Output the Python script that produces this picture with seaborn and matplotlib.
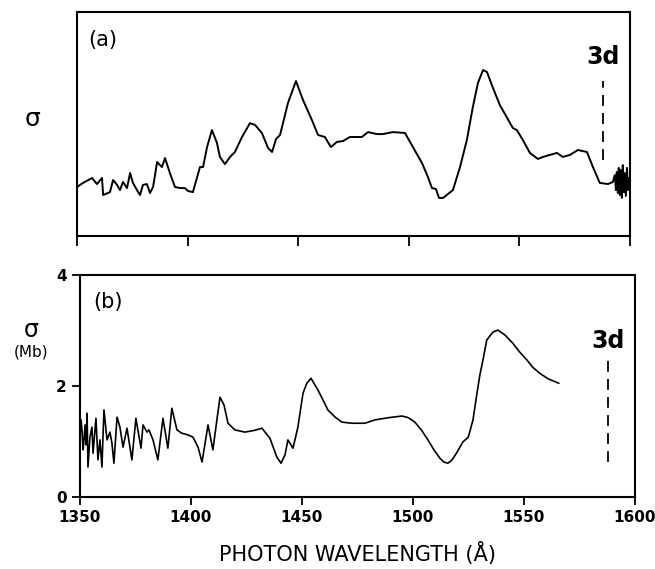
import numpy as np
import pandas as pd
import matplotlib
matplotlib.use("Agg")
import matplotlib.pyplot as plt
import seaborn as sns

# (a) measured spectrum, arbitrary units
wl_a = [1350.0, 1352.7, 1356.8, 1359.0, 1361.3, 1361.8, 1364.9, 1366.3, 1368.1, 1369.4,
        1370.8, 1372.6, 1374.0, 1375.3, 1377.1, 1378.5, 1379.8, 1381.6, 1383.0, 1384.4,
        1386.2, 1388.4, 1389.8, 1392.0, 1394.3, 1396.6, 1398.8, 1400.2, 1402.4, 1405.6,
        1407.0, 1408.8, 1411.0, 1413.3, 1414.6, 1416.9, 1419.2, 1421.4, 1424.6, 1428.2,
        1430.5, 1433.6, 1436.4, 1438.2, 1440.0, 1441.8, 1445.4, 1449.0, 1452.2, 1456.2,
        1459.0, 1462.1, 1464.8, 1467.5, 1470.3, 1473.4, 1478.8, 1481.6, 1485.6, 1488.3,
        1492.9, 1498.3, 1501.9, 1506.0, 1508.7, 1510.5, 1512.3, 1513.7, 1515.5, 1520.0,
        1523.2, 1526.3, 1529.0, 1531.3, 1533.6, 1535.4, 1538.1, 1541.2, 1547.1, 1548.9,
        1551.6, 1554.8, 1558.4, 1560.7, 1563.8, 1567.0, 1569.7, 1572.9, 1576.5, 1580.6,
        1583.3, 1586.4, 1590.1, 1592.3, 1593.2, 1593.7, 1594.1, 1594.6, 1595.0, 1595.5,
        1595.9, 1596.4, 1596.8, 1597.3, 1597.7, 1598.2, 1598.7, 1599.1, 1599.6]
sig_a = [2.19, 2.37, 2.59, 2.32, 2.59, 1.83, 1.96, 2.50, 2.28, 2.05,
         2.41, 2.14, 2.81, 2.37, 2.05, 1.83, 2.28, 2.32, 1.92, 2.19,
         3.30, 3.08, 3.48, 2.81, 2.19, 2.14, 2.14, 2.01, 1.96, 3.08,
         3.08, 3.97, 4.73, 4.15, 3.53, 3.21, 3.53, 3.75, 4.42, 5.04,
         4.96, 4.60, 3.93, 3.75, 4.33, 4.51, 5.94, 6.92, 6.07, 5.18,
         4.51, 4.42, 3.97, 4.20, 4.24, 4.42, 4.42, 4.64, 4.55, 4.55,
         4.64, 4.60, 3.97, 3.26, 2.63, 2.14, 2.10, 1.70, 1.70, 2.05,
         3.08, 4.29, 5.76, 6.83, 7.41, 7.32, 6.61, 5.85, 4.82, 4.73,
         4.29, 3.71, 3.44, 3.53, 3.62, 3.71, 3.53, 3.62, 3.84, 3.75,
         3.08, 2.37, 2.32, 2.41, 2.72, 2.05, 2.86, 1.92, 3.04, 1.83,
         2.95, 1.70, 3.17, 1.96, 2.81, 1.79, 3.04, 2.05, 2.59]

# (b) calculated cross section, Mb
wl_b = [1350.0, 1350.5, 1350.9, 1351.4, 1351.8, 1352.3, 1352.7, 1353.2, 1353.6, 1354.5,
        1355.4, 1355.9, 1357.2, 1358.1, 1359.0, 1359.9, 1360.8, 1362.2, 1363.5, 1364.4,
        1365.3, 1366.7, 1368.0, 1369.4, 1371.2, 1373.4, 1375.2, 1377.5, 1378.4, 1380.2,
        1381.1, 1382.9, 1385.1, 1387.4, 1389.6, 1391.4, 1393.7, 1395.9, 1398.7, 1400.9,
        1403.2, 1405.0, 1407.7, 1409.9, 1411.7, 1413.1, 1414.9, 1416.7, 1419.8, 1424.3,
        1428.5, 1432.0, 1435.6, 1438.7, 1440.6, 1442.4, 1443.7, 1446.0, 1448.2, 1450.5,
        1452.2, 1454.1, 1457.2, 1459.5, 1461.7, 1465.0, 1468.0, 1472.5, 1478.4, 1482.9,
        1489.0, 1495.1, 1498.0, 1500.9, 1504.0, 1506.8, 1509.5, 1512.2, 1514.0, 1515.8,
        1517.5, 1519.8, 1522.5, 1525.0, 1527.1, 1528.9, 1530.2, 1531.6, 1533.3, 1536.0,
        1538.3, 1541.5, 1545.1, 1548.0, 1551.4, 1554.0, 1557.2, 1561.0, 1565.8]
sig_b = [1.08, 1.39, 1.21, 0.85, 1.03, 1.30, 0.94, 1.51, 0.54, 1.08,
         1.26, 0.79, 1.42, 0.67, 1.03, 0.54, 1.57, 1.03, 1.17, 0.97,
         0.61, 1.44, 1.26, 0.90, 1.24, 0.67, 1.42, 0.88, 1.30, 1.17,
         1.21, 1.03, 0.67, 1.42, 0.88, 1.60, 1.21, 1.15, 1.12, 1.08,
         0.90, 0.63, 1.30, 0.85, 1.39, 1.80, 1.66, 1.33, 1.21, 1.17,
         1.20, 1.24, 1.06, 0.72, 0.61, 0.76, 1.03, 0.88, 1.26, 1.87,
         2.05, 2.14, 1.93, 1.75, 1.57, 1.44, 1.35, 1.33, 1.33, 1.39,
         1.43, 1.46, 1.43, 1.35, 1.20, 1.03, 0.85, 0.70, 0.63, 0.61,
         0.66, 0.80, 0.99, 1.08, 1.39, 1.87, 2.20, 2.47, 2.83, 2.97,
         3.01, 2.92, 2.77, 2.62, 2.47, 2.34, 2.23, 2.13, 2.05]

x_ticks = [1350, 1400, 1450, 1500, 1550, 1600]
y_ticks_b = [0, 2, 4]
edge_3d = 1588

sns.set_theme(style="ticks")
plt.rcParams.update({
    "font.family": ["DejaVu Sans"],
    "axes.linewidth": 1.5,
    "axes.edgecolor": "black",
    "axes.labelcolor": "black",
    "text.color": "black",
    "xtick.color": "black",
    "ytick.color": "black",
    "xtick.major.width": 1.3,
    "ytick.major.width": 1.3,
})

df_a = pd.DataFrame({"wl": wl_a, "sig": sig_a})
df_b = pd.DataFrame({"wl": wl_b, "sig": sig_b})

fig = plt.figure(figsize=(6.55, 5.69), dpi=100)
ax_a = fig.add_axes([0.1176, 0.5852, 0.844, 0.3937])
ax_b = fig.add_axes([0.1221, 0.1265, 0.847, 0.390])

# ── panel (a) ────────────────────────────────────────────────────────────────
sns.lineplot(data=df_a, x="wl", y="sig", ax=ax_a, color="black", lw=1.4,
             estimator=None, sort=False)
ax_a.set_xlim(1350, 1600)
ax_a.set_ylim(0, 10)
ax_a.set_xticks(x_ticks)
ax_a.set_xticklabels([])
ax_a.set_yticks([])
ax_a.tick_params(axis="x", direction="out", length=7)
ax_a.set_xlabel("")
ax_a.set_ylabel("")
ax_a.vlines(edge_3d, 3.4, 6.9, colors="black", lw=1.3, linestyles=(0, (6, 4)))
ax_a.text(edge_3d, 7.45, "3d", ha="center", va="bottom", fontsize=17, fontweight="bold")
ax_a.text(1355, 9.2, "(a)", ha="left", va="top", fontsize=15)
fig.text(0.05, 0.79, "σ", fontsize=18, ha="center", va="center")

# ── panel (b) ────────────────────────────────────────────────────────────────
sns.lineplot(data=df_b, x="wl", y="sig", ax=ax_b, color="black", lw=1.2,
             estimator=None, sort=False)
ax_b.set_xlim(1350, 1600)
ax_b.set_ylim(0, 4)
ax_b.set_xticks(x_ticks)
ax_b.set_yticks(y_ticks_b)
ax_b.tick_params(direction="out", length=6, labelsize=11)
for lab in ax_b.get_xticklabels() + ax_b.get_yticklabels():
    lab.set_fontweight("bold")
ax_b.vlines(edge_3d, 0.63, 2.47, colors="black", lw=1.3, linestyles=(0, (6, 4)))
ax_b.text(edge_3d, 2.6, "3d", ha="center", va="bottom", fontsize=17, fontweight="bold")
ax_b.text(1356, 3.7, "(b)", ha="left", va="top", fontsize=15)
ax_b.set_ylabel("")
ax_b.set_xlabel("PHOTON WAVELENGTH (Å)", fontsize=15, labelpad=12)
fig.text(0.048, 0.42, "σ", fontsize=17, ha="center", va="center")
fig.text(0.048, 0.382, "(Mb)", fontsize=11, ha="center", va="center")

fig.savefig("out.png", dpi=100)
